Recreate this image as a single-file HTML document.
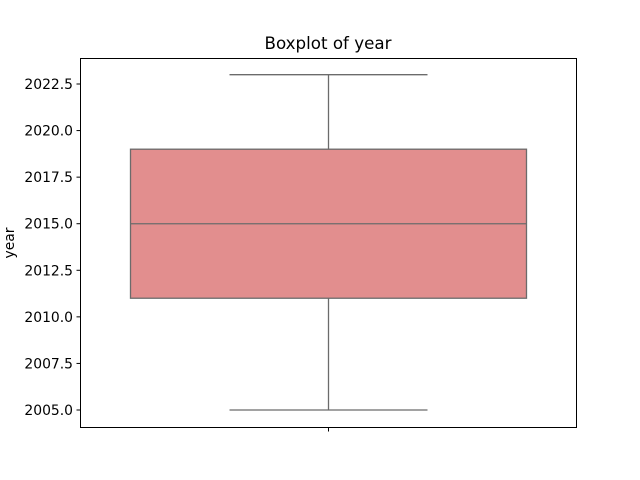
<!DOCTYPE html>
<html><head><meta charset="utf-8"><style>
body{margin:0;background:#fff;}
svg{display:block;font-family:"DejaVu Sans","Liberation Sans",sans-serif;}
</style></head><body>
<svg id="chart" width="640" height="480" viewBox="0 0 640 480">
<text x="328" y="49" font-size="16.7" text-anchor="middle">Boxplot of year</text>
<text transform="translate(14,243) rotate(-90)" font-size="13.9" text-anchor="middle">year</text>
<g id="ticks"></g>
<g id="marks"></g>
<rect x="80.5" y="58.5" width="496" height="369" fill="none" stroke="#000" stroke-width="1"/>
</svg>
<script>
const tickValues=[2005,2007.5,2010,2012.5,2015,2017.5,2020,2022.5];
const tickLabels=["2005.0","2007.5","2010.0","2012.5","2015.0","2017.5","2020.0","2022.5"];
const whiskerLow=[2005];
const q1=[2011];
const median=[2015];
const q3=[2019];
const whiskerHigh=[2023];
const categories=[""];
const ns="http://www.w3.org/2000/svg";
function y(v){return 410-(v-2005)*(326/17.5);}
function mk(tag,attrs,parent){const e=document.createElementNS(ns,tag);for(const k in attrs)e.setAttribute(k,attrs[k]);parent.appendChild(e);return e;}
const tg=document.getElementById('ticks');
tickValues.forEach((v,i)=>{
  const l=mk('line',{x1:76.5,x2:80.5,y1:y(v),y2:y(v),stroke:'#000'},tg);
  
  
  const t=mk('text',{x:73,y:y(v)+5,'font-size':13.9,'text-anchor':'end'},tg);
  t.textContent=tickLabels[i];
  
  
});
const xt=mk('line',{x1:328.5,x2:328.5,y1:427.5,y2:431.5,stroke:'#000'},tg);


const mg=document.getElementById('marks');
categories.forEach((c,i)=>{
  const cx=328.5,bw=396,cw=198,col='#6b6b6b';
  const w1=mk('line',{x1:cx,x2:cx,y1:y(whiskerLow[i]),y2:y(q1[i]),stroke:col,'stroke-width':1.3},mg);
  
  
  const w2=mk('line',{x1:cx,x2:cx,y1:y(q3[i]),y2:y(whiskerHigh[i]),stroke:col,'stroke-width':1.3},mg);
  
  
  const c1=mk('line',{x1:cx-cw/2,x2:cx+cw/2,y1:y(whiskerLow[i]),y2:y(whiskerLow[i]),stroke:col,'stroke-width':1.3},mg);
  
  
  const c2=mk('line',{x1:cx-cw/2,x2:cx+cw/2,y1:y(whiskerHigh[i]),y2:y(whiskerHigh[i]),stroke:col,'stroke-width':1.3},mg);
  
  
  const b=mk('rect',{x:cx-bw/2,y:y(q3[i]),width:bw,height:y(q1[i])-y(q3[i]),fill:'#e28e8e',stroke:col,'stroke-width':1.3},mg);
  
  
  const m=mk('line',{x1:cx-bw/2,x2:cx+bw/2,y1:y(median[i]),y2:y(median[i]),stroke:col,'stroke-width':1.3},mg);
  
  
});
</script>
</body></html>
